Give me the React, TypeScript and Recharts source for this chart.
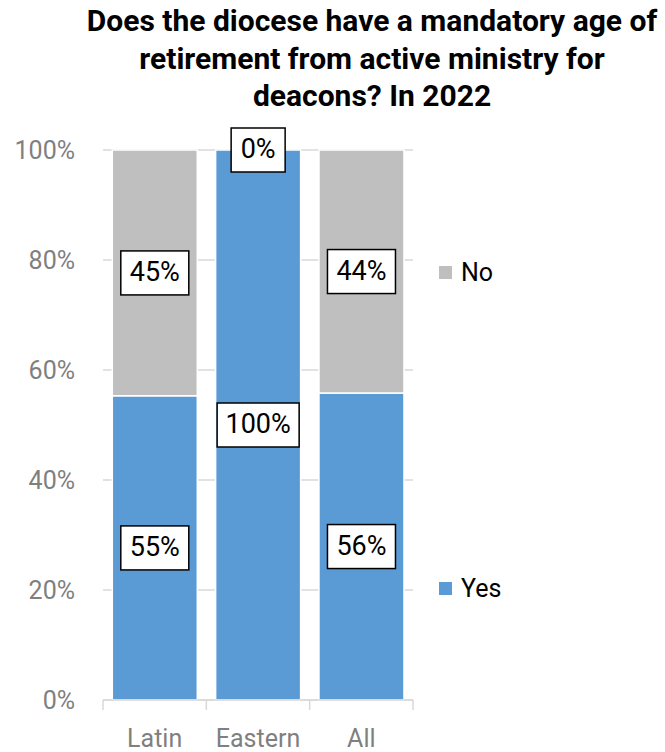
import React from "react";
import { BarChart, Bar, XAxis, YAxis, CartesianGrid, LabelList } from "recharts";

const categories = ["Latin", "Eastern", "All"];
const yesValues = [55.3, 100, 55.8];
const noValues = [44.7, 0, 44.2];
const yTicks = [0, 20, 40, 60, 80, 100];
const titleLines = [
  "Does the diocese have a mandatory age of",
  "retirement from active ministry for",
  "deacons? In 2022",
];
const legendItems = [
  { name: "No", color: "#BFBFBF" },
  { name: "Yes", color: "#5B9BD5" },
];

const data = categories.map((c, i) => ({ name: c, Yes: yesValues[i], No: noValues[i] }));

const FONT = "Roboto, 'Open Sans', sans-serif";

const drawBox = (cx: number, cy: number, value: number) => {
  const txt = `${Math.round(value)}%`;
  const w = txt.length * 14 + 26;
  const h = 44;
  return (
    <g>
      <rect x={cx - w / 2} y={cy - h / 2} width={w} height={h} fill="#fff" stroke="#000" strokeWidth={1.5} />
      <text x={cx} y={cy + 1} textAnchor="middle" dominantBaseline="middle" fontFamily={FONT} fontSize={27} fill="#000">
        {txt}
      </text>
    </g>
  );
};

const BoxLabel = (props: any) => {
  const { x, y, width, height, value } = props;
  if (value == null) return null;
  return drawBox(x + width / 2, y + height / 2, value);
};

// zero-valued top segments: label sits at the top of the stack
const ZeroTopLabel = (props: any) => {
  const { x, y, width, value } = props;
  if (value !== 0) return null;
  return drawBox(x + width / 2, y, value);
};

const XTick = (props: any) => {
  const { x, payload, width, visibleTicksCount, index } = props;
  const band = width / visibleTicksCount;
  return (
    <g>
      <line x1={x - band / 2} x2={x - band / 2} y1={700} y2={710} stroke="#D9D9D9" strokeWidth={1.5} />
      {index === visibleTicksCount - 1 && (
        <line x1={x + band / 2} x2={x + band / 2} y1={700} y2={710} stroke="#D9D9D9" strokeWidth={1.5} />
      )}
      <text x={x} y={747} textAnchor="middle" fontFamily={FONT} fontSize={25} fill="#7F7F7F">
        {payload.value}
      </text>
    </g>
  );
};

export default function App() {
  return (
    <div style={{ position: "absolute", left: 0, top: 0, width: 665, height: 752, background: "#fff", overflow: "hidden" }}>
      <div
        style={{
          position: "absolute",
          left: 70,
          top: 2,
          width: 604,
          textAlign: "center",
          fontFamily: FONT,
          fontWeight: 700,
          fontSize: 30,
          lineHeight: "37.5px",
          color: "#000",
        }}
      >
        {titleLines.map((l, i) => (
          <div key={i}>{l}</div>
        ))}
      </div>
      <BarChart
        width={665}
        height={752}
        data={data}
        margin={{ top: 150, right: 252, bottom: 0, left: 0 }}
        barCategoryGap="9%"
      >
        <CartesianGrid vertical={false} stroke="#D9D9D9" strokeWidth={1.5} />
        <YAxis
          domain={[0, 100]}
          ticks={yTicks}
          tickFormatter={(v: number) => `${v}%`}
          axisLine={false}
          tickLine={false}
          tickSize={0}
          tickMargin={28}
          width={103}
          interval={0}
          tick={{ fontFamily: FONT, fontSize: 25, fill: "#7F7F7F" }}
        />
        <XAxis
          dataKey="name"
          axisLine={{ stroke: "#D9D9D9", strokeWidth: 1.5 }}
          tickLine={false}
          tickSize={0}
          height={52}
          interval={0}
          tick={<XTick />}
        />
        <Bar dataKey="Yes" stackId="a" fill="#5B9BD5" stroke="#fff" strokeWidth={1.5} isAnimationActive={false}>
          <LabelList dataKey="Yes" content={<BoxLabel />} />
          <LabelList dataKey="No" content={<ZeroTopLabel />} />
        </Bar>
        <Bar dataKey="No" stackId="a" fill="#BFBFBF" stroke="#fff" strokeWidth={1.5} isAnimationActive={false}>
          <LabelList dataKey="No" content={(p: any) => (p.value ? <BoxLabel {...p} /> : null)} />
        </Bar>
      </BarChart>
      {legendItems.map((it, i) => (
        <div
          key={it.name}
          style={{
            position: "absolute",
            left: 439,
            top: i === 0 ? 256 : 572,
            height: 32,
            display: "flex",
            alignItems: "center",
            fontFamily: FONT,
            fontSize: 25,
            color: "#000",
          }}
        >
          <span style={{ display: "inline-block", width: 13, height: 13, background: it.color, marginRight: 9 }} />
          {it.name}
        </div>
      ))}
    </div>
  );
}
